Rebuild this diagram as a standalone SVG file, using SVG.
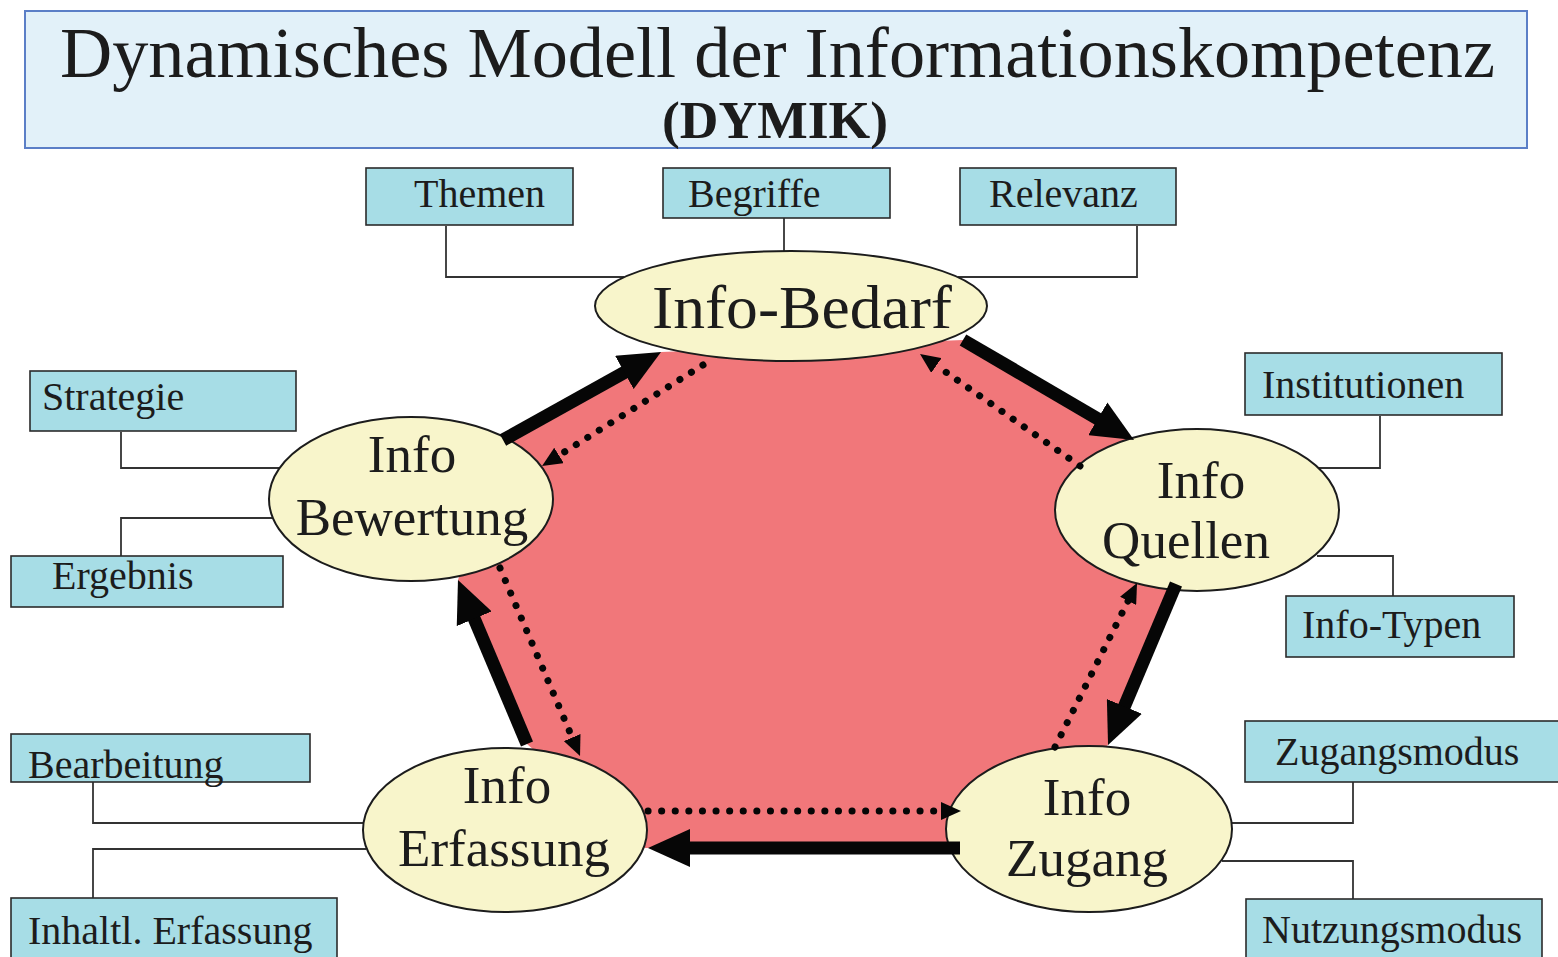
<svg xmlns="http://www.w3.org/2000/svg" width="1558" height="957" viewBox="0 0 1558 957">
  <style>
    .serif { font-family: "Liberation Serif", "Times New Roman", serif; fill: #1c1c1c; }
    .box { fill: #a7dde6; stroke: #2b2b2b; stroke-width: 1.6; }
    .oval { fill: #f8f5cb; stroke: #1c1c1c; stroke-width: 2; }
    .link { fill: none; stroke: #333; stroke-width: 1.8; }
    .solid { fill: none; stroke: #060606; stroke-width: 13; stroke-linecap: butt; }
    .dots { fill: none; stroke: #060606; stroke-width: 7; stroke-linecap: round; stroke-dasharray: 0.1 13.5; }
    .lbl { font-size: 40px; }
    .big { font-size: 53px; text-anchor: middle; }
  </style>
  <defs>
    <marker id="headSolid" markerUnits="userSpaceOnUse" viewBox="0 -19 42 38" markerWidth="42" markerHeight="38" refX="2" refY="0" orient="auto">
      <path d="M0,-19 L42,0 L0,19 Z" fill="#060606"/>
    </marker>
    <marker id="headDot" markerUnits="userSpaceOnUse" viewBox="0 -9 20 18" markerWidth="20" markerHeight="18" refX="0" refY="0" orient="auto">
      <path d="M0,-9 L20,0 L0,9 Z" fill="#060606"/>
    </marker>
  </defs>

  <rect width="1558" height="957" fill="#ffffff"/>

  <!-- title banner -->
  <g id="title">
    <rect x="25" y="11" width="1502" height="137" fill="#e2f1f9" stroke="#5b7fc7" stroke-width="2"/>
    <text class="serif" x="60" y="77" font-size="72" textLength="1435" lengthAdjust="spacingAndGlyphs">Dynamisches Modell der Informationskompetenz</text>
    <text class="serif" x="775" y="138" font-size="52" font-weight="bold" text-anchor="middle" textLength="226" lengthAdjust="spacingAndGlyphs">(DYMIK)</text>
  </g>

  <!-- pink cycle area -->
  <polygon id="cycle-area" points="503,440 661,352 963,340 1134,440 1176,584 1108,745 960,848 645,848 527,744 458,580" fill="#f1777a"/>

  <!-- thin connectors from boxes to stages -->
  <g id="connectors">
    <polyline class="link" points="446,226 446,277 624,277"/>
    <polyline class="link" points="784,213 784,252"/>
    <polyline class="link" points="1137,226 1137,277 958,277"/>
    <polyline class="link" points="121,432 121,468 280,468"/>
    <polyline class="link" points="121,556 121,518 274,518"/>
    <polyline class="link" points="1380,416 1380,468 1312,468"/>
    <polyline class="link" points="1393,596 1393,556 1317,556"/>
    <polyline class="link" points="93,782 93,823 366,823"/>
    <polyline class="link" points="93,898 93,849 366,849"/>
    <polyline class="link" points="1353,782 1353,823 1232,823"/>
    <polyline class="link" points="1353,899 1353,861 1222,861"/>
  </g>

  <!-- stages -->
  <g id="info-bedarf">
    <ellipse class="oval" cx="791" cy="306" rx="196" ry="55"/>
    <text class="serif" x="802" y="328" font-size="62" text-anchor="middle" textLength="300" lengthAdjust="spacingAndGlyphs">Info-Bedarf</text>
  </g>
  <g id="info-quellen">
    <ellipse class="oval" cx="1197" cy="510" rx="142" ry="81"/>
    <text class="serif big" x="1201" y="498">Info</text>
    <text class="serif big" x="1186" y="558">Quellen</text>
  </g>
  <g id="info-zugang">
    <ellipse class="oval" cx="1089" cy="829" rx="143" ry="83"/>
    <text class="serif big" x="1087" y="815">Info</text>
    <text class="serif big" x="1087" y="876">Zugang</text>
  </g>
  <g id="info-erfassung">
    <ellipse class="oval" cx="505" cy="830" rx="142" ry="82"/>
    <text class="serif big" x="507" y="803">Info</text>
    <text class="serif big" x="504" y="866">Erfassung</text>
  </g>
  <g id="info-bewertung">
    <ellipse class="oval" cx="411" cy="499" rx="142" ry="82"/>
    <text class="serif big" x="412" y="472">Info</text>
    <text class="serif big" x="412" y="535">Bewertung</text>
  </g>

  <!-- aspect boxes -->
  <g id="themen">
    <rect class="box" x="366" y="168" width="207" height="57"/>
    <text class="serif lbl" x="414" y="207">Themen</text>
  </g>
  <g id="begriffe">
    <rect class="box" x="663" y="168" width="227" height="50"/>
    <text class="serif lbl" x="688" y="207">Begriffe</text>
  </g>
  <g id="relevanz">
    <rect class="box" x="960" y="168" width="216" height="57"/>
    <text class="serif lbl" x="989" y="207">Relevanz</text>
  </g>
  <g id="strategie">
    <rect class="box" x="30" y="371" width="266" height="60"/>
    <text class="serif lbl" x="42" y="410">Strategie</text>
  </g>
  <g id="ergebnis">
    <rect class="box" x="11" y="556" width="272" height="51"/>
    <text class="serif lbl" x="52" y="589">Ergebnis</text>
  </g>
  <g id="institutionen">
    <rect class="box" x="1245" y="353" width="257" height="62"/>
    <text class="serif lbl" x="1262" y="398">Institutionen</text>
  </g>
  <g id="info-typen">
    <rect class="box" x="1286" y="596" width="228" height="61"/>
    <text class="serif lbl" x="1302" y="638">Info-Typen</text>
  </g>
  <g id="bearbeitung">
    <rect class="box" x="11" y="734" width="299" height="48"/>
    <text class="serif lbl" x="28" y="778">Bearbeitung</text>
  </g>
  <g id="inhaltl-erfassung">
    <rect class="box" x="11" y="898" width="326" height="70"/>
    <text class="serif lbl" x="28" y="944">Inhaltl. Erfassung</text>
  </g>
  <g id="zugangsmodus">
    <rect class="box" x="1245" y="721" width="320" height="61"/>
    <text class="serif lbl" x="1275" y="765">Zugangsmodus</text>
  </g>
  <g id="nutzungsmodus">
    <rect class="box" x="1246" y="899" width="296" height="70"/>
    <text class="serif lbl" x="1262" y="943">Nutzungsmodus</text>
  </g>

  <!-- cycle arrows: solid clockwise, dotted counter-clockwise -->
  <g id="arrows">
    <line class="solid" x1="503" y1="440" x2="626.1" y2="371.5" marker-end="url(#headSolid)"/>
    <line class="solid" x1="963" y1="340" x2="1099.5" y2="419.8" marker-end="url(#headSolid)"/>
    <line class="solid" x1="1176" y1="584" x2="1123.6" y2="708.2" marker-end="url(#headSolid)"/>
    <line class="solid" x1="960" y1="848" x2="688" y2="848" marker-end="url(#headSolid)"/>
    <line class="solid" x1="527" y1="744" x2="473.5" y2="616.9" marker-end="url(#headSolid)"/>

    <line class="dots" x1="703" y1="365" x2="559" y2="455.4" marker-end="url(#headDot)"/>
    <line class="dots" x1="1080" y1="466" x2="936.4" y2="365.5" marker-end="url(#headDot)"/>
    <line class="dots" x1="1055" y1="747" x2="1128.1" y2="600.9" marker-end="url(#headDot)"/>
    <line class="dots" x1="648" y1="811" x2="941" y2="811" marker-end="url(#headDot)"/>
    <line class="dots" x1="500" y1="568" x2="572.2" y2="737.6" marker-end="url(#headDot)"/>
  </g>
</svg>
